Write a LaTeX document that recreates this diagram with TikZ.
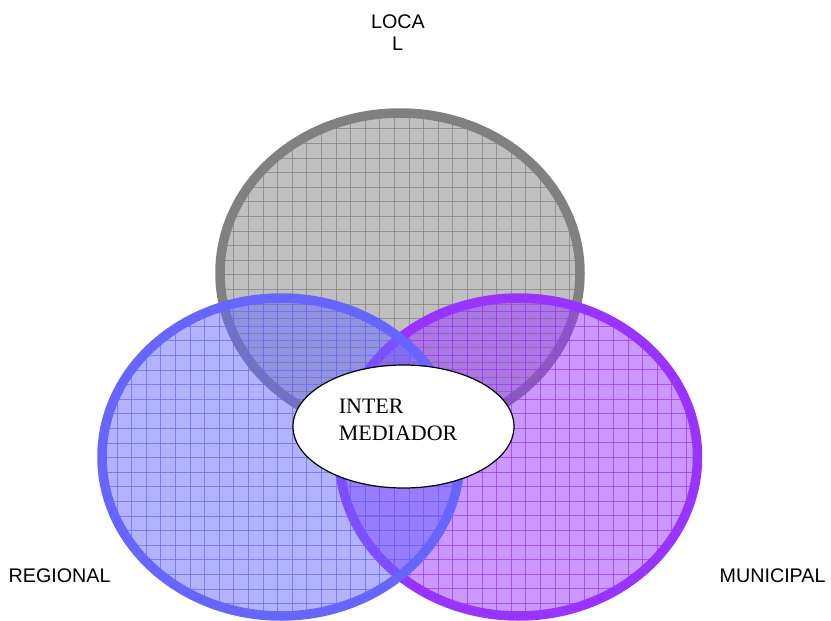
\documentclass[tikz,border=0pt]{standalone}
\usepackage{fontspec}
\setmainfont{Liberation Serif}
\newfontfamily\arialfont{Liberation Sans}
\usetikzlibrary{shapes.geometric}
\definecolor{cgray}{HTML}{808080}
\definecolor{cblue}{HTML}{6666FF}
\definecolor{cpurple}{HTML}{9933FF}
\tikzset{
  vennborder/.style={line width=9.5pt},
  vennfill/.style={fill opacity=0.5},
  gridline/.style={line width=0.9pt, draw opacity=0.7},
  lbl/.style={font=\arialfont\fontsize{19.7}{22}\selectfont, inner sep=0pt, text=black},
  midlbl/.style={font=\fontsize{22}{27}\selectfont, inner sep=0pt, anchor=base west, text=black},
  midshape/.style={ellipse, draw=black, line width=1.2pt, fill=white, minimum width=221pt, minimum height=123pt, inner sep=0pt},
}
\begin{document}
\begin{tikzpicture}[x=1pt,y=-1pt]
\useasboundingbox[fill=white] (0,0) rectangle (831,621);
% LOCAL (gray)
\fill[cgray, vennfill] (400,273) ellipse [x radius=180pt, y radius=160pt];
\begin{scope}
  \clip (400,273) ellipse [x radius=180pt, y radius=160pt];
  \foreach \k in {-8,...,17} \draw[gridline, cgray] ({336+14.6*\k},100) -- ({336+14.6*\k},450);
  \foreach \k in {-5,...,18} \draw[gridline, cgray] (200,{172.7+14.6*\k}) -- (600,{172.7+14.6*\k});
\end{scope}
\draw[vennborder, cgray] (400,273) ellipse [x radius=180pt, y radius=160pt];
% MUNICIPAL (purple)
\fill[cpurple, vennfill] (518.5,457) ellipse [x radius=179pt, y radius=159pt];
\begin{scope}
  \clip (518.5,457) ellipse [x radius=179pt, y radius=159pt];
  \foreach \k in {-1,...,26} \draw[gridline, cpurple] ({336+14.6*\k},290) -- ({336+14.6*\k},630);
  \foreach \k in {-7,...,16} \draw[gridline, cpurple] (330,{399+14.6*\k}) -- (710,{399+14.6*\k});
\end{scope}
\draw[vennborder, cpurple] (518.5,457) ellipse [x radius=179pt, y radius=159pt];
% REGIONAL (blue)
\fill[cblue, vennfill] (281,457) ellipse [x radius=179pt, y radius=159pt];
\begin{scope}
  \clip (281,457) ellipse [x radius=179pt, y radius=159pt];
  \foreach \k in {-17,...,9} \draw[gridline, cblue] ({336+14.6*\k},290) -- ({336+14.6*\k},630);
  \foreach \k in {-2,...,22} \draw[gridline, cblue] (90,{311.7+14.6*\k}) -- (470,{311.7+14.6*\k});
\end{scope}
\draw[vennborder, cblue] (281,457) ellipse [x radius=179pt, y radius=159pt];
% centre
\node[midshape] (mid) at (403.5,426.5) {};
\node[midlbl] (midA) at (338.6,413) {INTER};
\node[midlbl] (midB) at (338.6,440) {MEDIADOR};
% labels
\node[lbl, anchor=base] (locA) at (398,28) {LOCA};
\node[lbl, anchor=base] (locB) at (397.5,50) {L};
\node[lbl, anchor=base west] (reg) at (8.5,582.7) {REGIONAL};
\node[lbl, anchor=base west] (mun) at (719.5,582.5) {MUNICIPAL};
\end{tikzpicture}
\end{document}
